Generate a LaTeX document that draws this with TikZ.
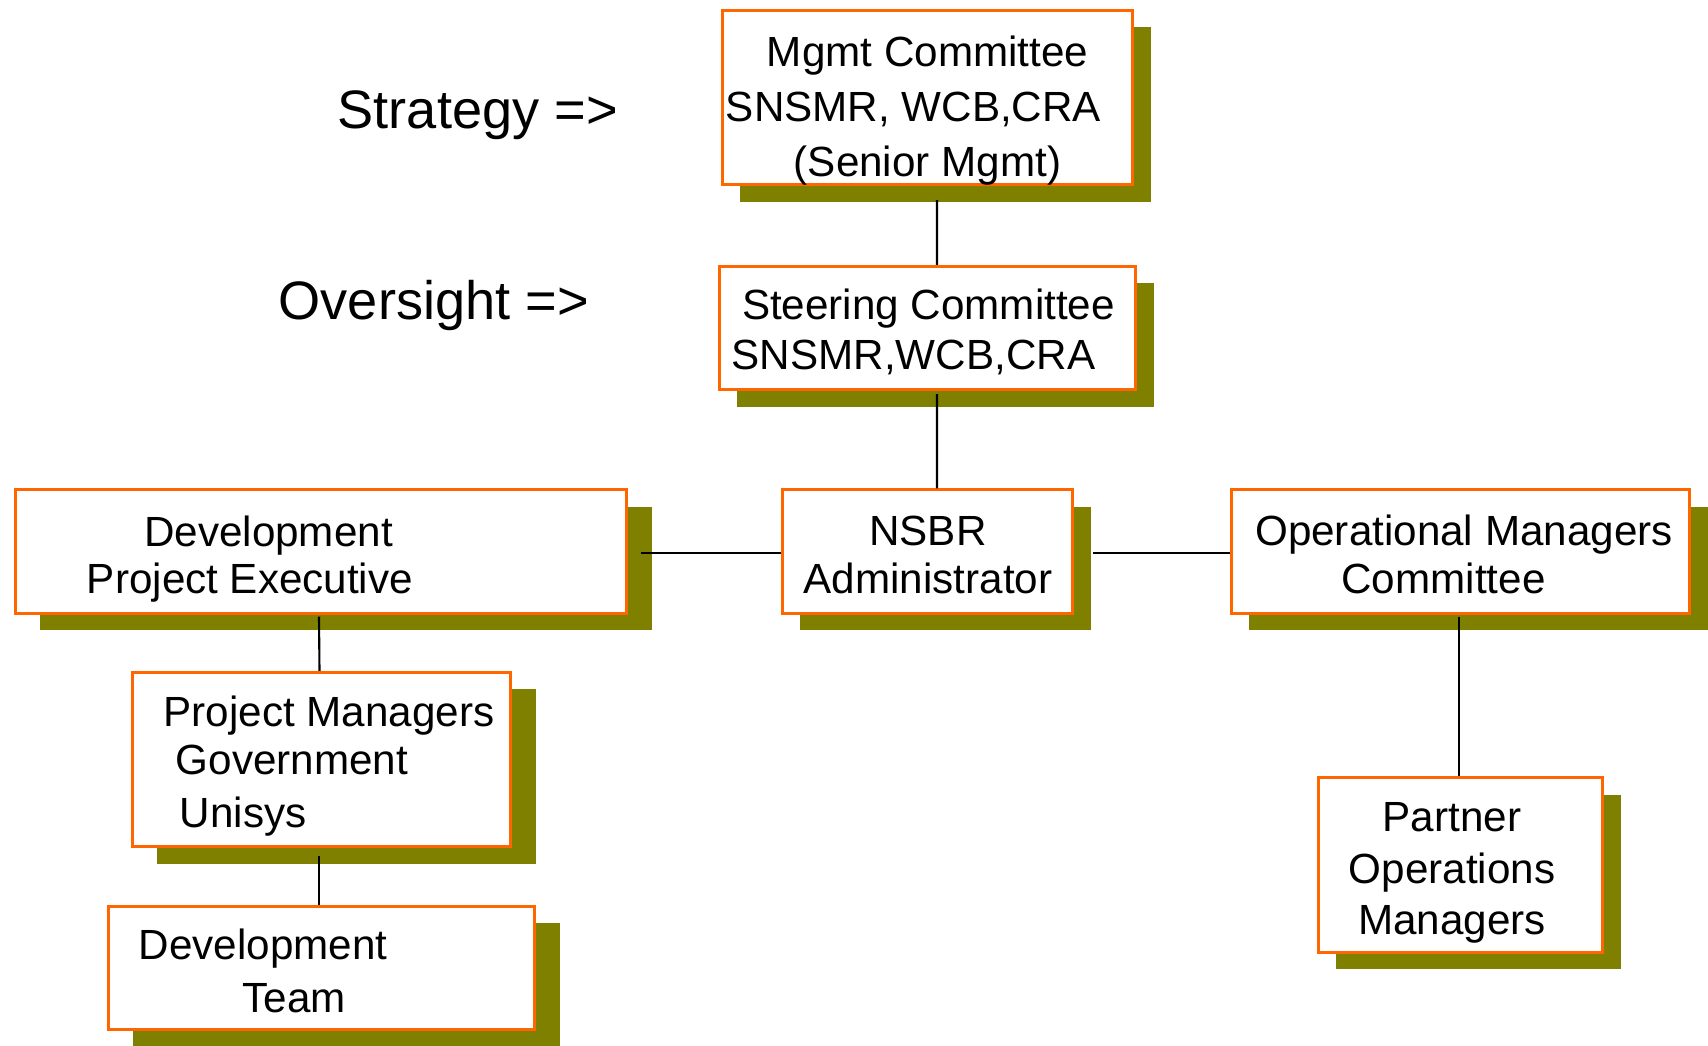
\documentclass[tikz,border=0pt]{standalone}
\usepackage{fontspec}
\setmainfont{Liberation Sans}
\usetikzlibrary{shadows}

\definecolor{boxorange}{HTML}{FF6600}
\definecolor{shadowolive}{HTML}{808000}

\begin{document}
\begin{tikzpicture}[x=0.01cm, y=-0.01cm,
    orgbox/.style={draw=boxorange, line width=0.85pt, fill=white, inner sep=0pt,
        drop shadow={shadow xshift=#1, shadow yshift=-0.17cm, opacity=1, fill=shadowolive}},
    orgbox/.default=0.18cm,
    boxtext/.style={align=center, anchor=base, inner sep=0pt, font=\fontsize{12pt}{#1}\selectfont},
    boxtextleft/.style={align=left, anchor=base west, inner sep=0pt, font=\fontsize{12pt}{#1}\selectfont},
    sidetext/.style={anchor=base west, inner sep=0pt, font=\fontsize{15.4pt}{18pt}\selectfont},
    link/.style={line width=0.6pt}]

\useasboundingbox (0,0) rectangle (1708,1046);

% Define a variable for the box heights
\def\rowh{1.23cm}
\def\tallh{1.74cm}
% trailing gap that pushes a centred line to the left
\def\pad#1{\rule{#1}{0pt}}

% Left labels
\node[sidetext] (strategy) at (337,129) {Strategy =>};
\node[sidetext] (oversight) at (278,320) {Oversight =>};

% Centre column
\node[orgbox, minimum width=4.10cm, minimum height=\tallh] (mgmt) at (927.5,97.5) {};
\node[orgbox, minimum width=4.16cm, minimum height=\rowh] (steer) at (927.5,328) {};
\node[orgbox, minimum width=2.90cm, minimum height=\rowh] (nsbr) at (927.5,551.5) {};

% Left column
\node[orgbox=0.25cm, minimum width=6.11cm, minimum height=\rowh] (dpe) at (321,551.5) {};
\node[orgbox=0.25cm, minimum width=3.78cm, minimum height=\tallh] (pm) at (321.5,759.5) {};
\node[orgbox=0.25cm, minimum width=4.26cm, minimum height=\rowh] (dt) at (321.5,968) {};

% Right column
\node[orgbox, minimum width=4.58cm, minimum height=\rowh] (omc) at (1460.5,551.5) {};
\node[orgbox, minimum width=2.84cm, minimum height=\tallh] (pom) at (1460.5,865) {};

% Box texts (placed at the baseline of the last line)
\node[boxtext=0.55cm] (mgmt_txt) at (927.5,177) {Mgmt Committee\\SNSMR, WCB,CRA\pad{0.28cm}\\(Senior Mgmt)};
\node[boxtext=0.50cm] (steer_txt) at (928.5,370) {Steering Committee\\SNSMR,WCB,CRA\pad{0.30cm}};
\node[boxtext=0.48cm] (nsbr_txt) at (928,594) {NSBR\\Administrator};
\node[boxtext=0.47cm] (dpe_txt) at (268.5,594) {Development\\Project Executive\pad{0.37cm}};
\node[boxtextleft=0.48cm] (pm_txt) at (163,828) {Project Managers\\\hspace*{0.12cm}Government\\[0.05cm]\hspace*{0.16cm}Unisys};
\node[boxtextleft=0.52cm] (dt_txt) at (138,1012) {Development\\\hspace*{1.04cm}Team};
\node[boxtext=0.48cm] (omc_txt) at (1464,594) {Operational Managers\\Committee\pad{0.41cm}};
\node[boxtext=0.515cm] (pom_txt) at (1452,935) {Partner\\Operations\\Managers};

% Connections
\draw[link] ([shift={(9.5,14)}]mgmt.south) -- ([xshift=0.095cm]steer.north);
\draw[link] ([shift={(9.5,3)}]steer.south) -- ([xshift=0.095cm]nsbr.north);
\draw[link] ([shift={(13,1.5)}]dpe.east) -- ([shift={(0,1.5)}]nsbr.west);
\draw[link] ([shift={(19,1.5)}]nsbr.east) -- ([shift={(0,1.5)}]omc.west);
\draw[link] ([shift={(-2,2)}]dpe.south) -- ([shift={(-2,0)}]pm.north);
\draw[link] ([shift={(-2.5,8)}]pm.south) -- ([shift={(-2.5,0)}]dt.north);
\draw[link] ([shift={(-1.5,2)}]omc.south) -- ([shift={(-1.5,0)}]pom.north);

\end{tikzpicture}
\end{document}
